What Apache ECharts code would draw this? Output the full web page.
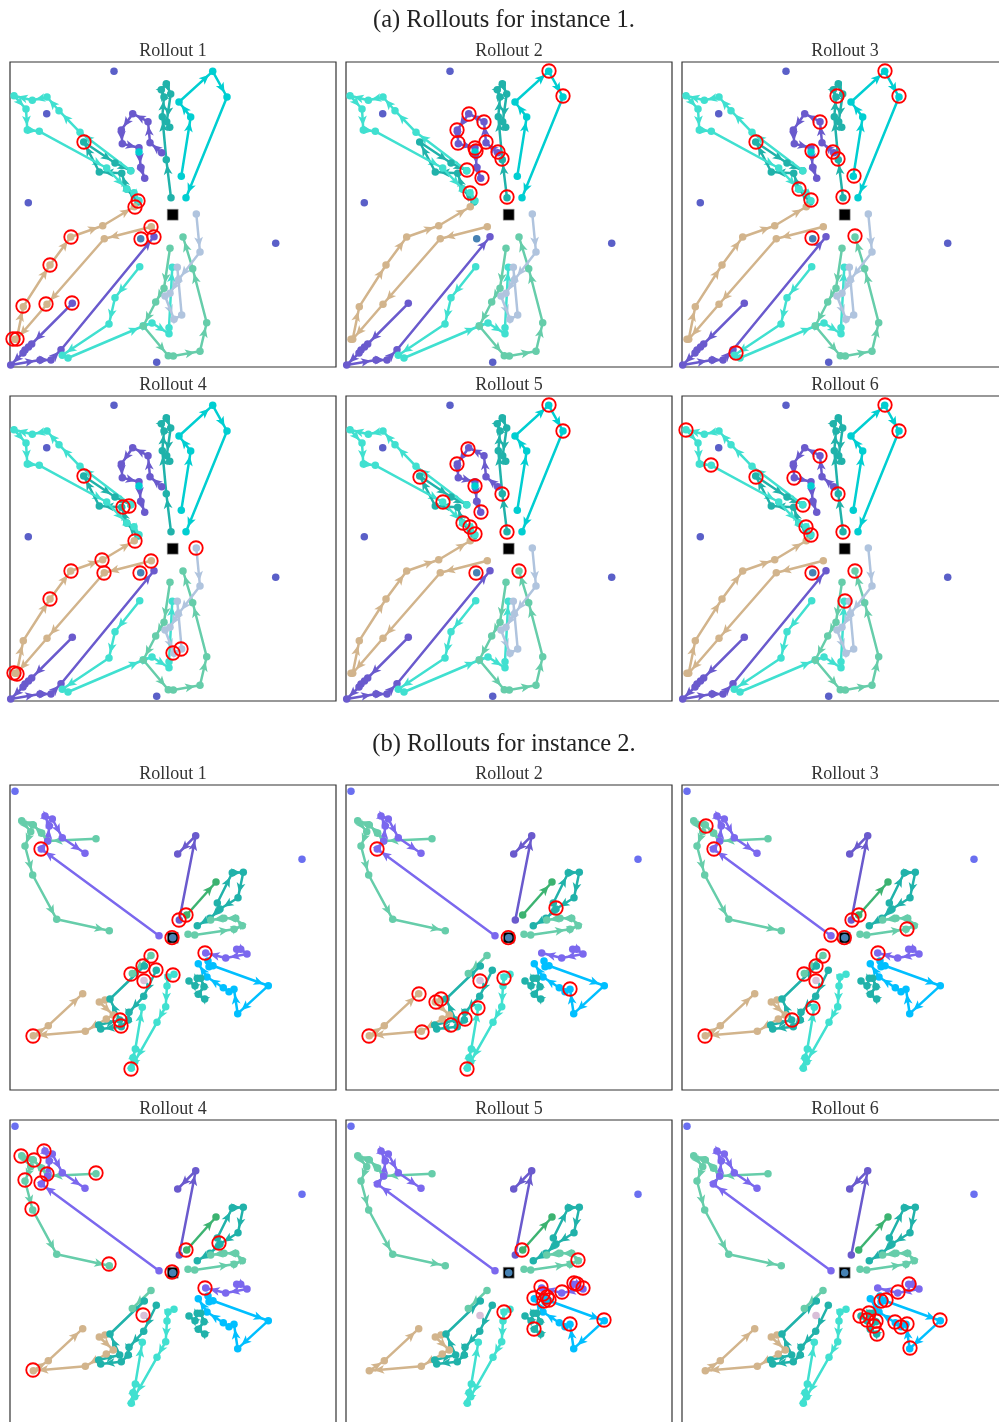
<!DOCTYPE html>
<html><head><meta charset="utf-8">
<style>html,body{margin:0;padding:0;background:#fff;overflow:hidden}#c{width:999px;height:1422px}</style>
<script src="https://cdn.jsdelivr.net/npm/echarts@6/dist/echarts.min.js"></script>
</head><body><div id="c"></div>
<script>
// ---- Instance 1 ----
const a_turq1=[[120.7,108.7],[70,70.3],[49,48.7],[37,35],[22.3,38.3],[4,33.7],[16,47],[17.3,68],[29.3,69.3],[96.7,106],[116.7,127],[124,130.7],[129,138.7]];
const a_sea1=[[128,140],[116.7,127],[111.7,111.3],[89.3,110],[73.7,80],[105,101],[120.7,108.7]];
const a_sea2=[[161,135.7],[156.3,97.7],[152.3,54.7],[154,35],[151.3,27.7],[156.3,21.7],[160.7,32],[156.7,59.7],[159.7,65.3]];
const a_dark=[[171.3,114.3],[180.7,55],[169,40],[202.7,9.3],[217,35],[176,135.7]];
const a_purple1=[[151.7,90.7],[140,80.7],[138,59.7],[122.7,51.7],[111.3,68],[112.3,81.7],[129,85.7],[130.7,105.3],[134.7,116.3]];
const a_tan=[[141.3,164.7],[94.3,176.7],[37,242.3],[6.7,277.3],[5,277.3],[13.3,244.7],[40,203],[60.7,175],[92.7,163.7],[124.3,144.7]];
const a_purple2=[[62.3,241.3],[21.7,282],[18.5,285],[15,288],[13,291],[0.7,303],[30,298],[41,298],[51,287.7],[144,174.7]];
const a_turq2=[[129.7,204.7],[105,235.7],[99,262],[52.3,293.3],[58,296],[133.3,264],[142,261],[159,271.7],[159,265.7],[162.3,205.3]];
const a_green=[[160,186.3],[154,226.3],[145.7,240],[133.3,264],[158.3,293.7],[163.3,294],[190,289.3],[196.7,260.7],[182.7,206.7],[173,175]];
const a_steel=[[186.3,152],[190,190],[168.3,218],[160,231.3],[155,234],[164,257.3],[171.7,253],[167.3,205.3]];
const a_extraDark=[[129,90]];
const a_extraBlue=[[130.7,176.7]];
const a_customers=[[104,9.3],[36.7,51.7],[18.3,140.7],[265.7,181.3],[146.7,300.3]];
const depot1=[[162.7,152.7]];
const circlesA=[
 [[74,80],[128,139],[125,145],[61,175],[40,203],[13,244],[36,242],[62,241],[141,165],[131,177],[144,175],[3,277],[7,277]],
 [[203,9],[217,34],[123,52],[138,60],[111,68],[112,81],[140,80],[129,86],[130,89],[152,90],[156,97],[121,108],[136,116],[124,131],[161,135]],
 [[203,9],[217,34],[155,34],[138,60],[74,80],[130,89],[151,90],[156,97],[172,114],[117,127],[129,138],[161,135],[130,176],[173,174],[54,291]],
 [[74,80],[113,111],[119,110],[125,145],[92,164],[61,175],[94,177],[40,203],[141,165],[130,177],[186,152],[171,253],[163,257],[4,277],[7,278]],
 [[203,9],[217,35],[122,53],[111,68],[74,81],[129,90],[156,98],[97,106],[135,116],[117,127],[124,131],[129,138],[161,136],[130,177],[173,175]],
 [[203,9],[217,35],[4,34],[29,69],[138,60],[74,81],[112,82],[156,98],[121,109],[124,131],[129,139],[161,136],[130,177],[173,175],[163,205]]
];
// ---- Instance 2 ----
const b_purple1=[[149,150.7],[31.3,64],[37.7,56],[39.3,41],[35,31],[42.3,34],[52.3,52.7],[75,68.3]];
const b_purple2=[[169.3,135],[185.7,50.7],[167.7,69]];
const b_green1=[[86,53.7],[37.7,56],[31.7,48.3],[23.3,40],[11.7,35.7],[20.7,46.7],[15,61],[22.7,90],[46.7,134.3],[99.3,145.7]];
const b_sea=[[176.7,130],[206,97]];
const b_teal1=[[207.3,118],[222.3,87.7],[233.3,87.3],[228,112.7],[210,124],[200,133.3],[187.3,140.7]];
const b_green2=[[178,149.3],[184.7,150],[224,144.3],[232.3,140.7],[225.7,133.3],[214,133.3],[200.7,135]];
const b_green3=[[141,170.5],[122.3,188.5]];
const b_purple3=[[226.7,164.3],[230.7,164.3],[237,169],[215.7,173],[195.7,168]];
const b_sky=[[198,176],[199,181.7],[203,180.7],[258.3,200.7],[227.7,228.7],[224,204.3],[219,206.7],[213.3,202.7],[197,192],[188.3,178.7]];
const b_teal2=[[194.7,214],[188.3,209.3],[194,201.7],[190.7,193.3],[187.3,193.3],[185,200.7],[179,196]];
const b_turq=[[164,189.3],[158,192],[157,201],[155.7,221.7],[147,237.3],[124.7,276.7],[121.3,283.3],[123,272.7],[125.3,264],[132.3,222.3]];
const b_teal3=[[146.3,185.3],[133.7,211.3],[119,227.3],[118.3,235],[111.3,241.7],[90.7,244],[88.7,240],[109.7,235],[100,214],[134.3,181]];
const b_tan=[[95,215],[89.3,217],[103.3,230],[96.3,234],[75.3,246.3],[23.3,250.7],[38.3,240.7],[72.7,208.7]];
const b_extraThistle=[[134,195.5]];
const b_customers=[[5,6.3],[292,74.3]];
const depot2=[[162.7,152.7]];
const circlesB=[
 [[31,64],[176,130],[169,135],[162,152.7],[141,171],[133,181],[146,185],[121,189],[134,196],[163,190],[195,168],[110,235],[111,241],[23,251],[121,284]],
 [[31,64],[210,123],[162.3,152.7],[134,196],[158,193],[73,209],[90,217],[95,214],[119,234],[132,223],[105,240],[76,247],[23,251],[224,204],[121,284]],
 [[24,41],[32,64],[177,130],[170,135],[225,144],[149,150],[162.3,152.7],[196,168],[141,171],[134,181],[122,189],[134,196],[131,223],[110,235],[23,251]],
 [[34,31],[11,36],[24,40],[37,54],[15,60],[86,53],[31,63],[22,89],[176,130],[209,123],[99,144],[162,152],[195,168],[133,195],[23,250]],
 [[176,130],[232,140],[195,167],[216,172],[228,163],[231,164],[237,168],[188,178],[197,174],[201,177],[203,180],[198,181],[158,192],[188,209],[224,204],[258,200]],
 [[227,164],[216,172],[204,180],[199,181],[178,196],[187,193],[185,200],[194,201],[192,206],[195,214],[213,202],[219,207],[225,204],[258,200],[228,228]]
];
const rolloutNames=['Rollout 1','Rollout 2','Rollout 3','Rollout 4','Rollout 5','Rollout 6'];

const TUR='#40e0d0',SEA='#20b2aa',DRK='#00ced1',PUR='#6a5acd',TAN='#d2b48c',GRN='#66cdaa',STL='#b0c4de',MPU='#7b68ee',MSG='#3cb371',SKY='#00bfff';
const routesA=[[a_sea1,SEA],[a_turq1,TUR],[a_sea2,SEA],[a_dark,DRK],[a_purple1,PUR],[a_tan,TAN],[a_purple2,PUR],[a_turq2,TUR],[a_green,GRN],[a_steel,STL]];
const routesB=[[b_green1,GRN],[b_purple1,MPU],[b_purple2,PUR],[b_sea,MSG],[b_teal1,SEA],[b_green2,GRN],[b_purple3,MPU],[b_sky,SKY],[b_teal2,SEA],[b_tan,TAN],[b_teal3,SEA],[b_green3,GRN],[b_turq,TUR]];

const W=326,H=305,LEFTS=[10,346,682];
const grids=[],xAxes=[],yAxes=[],series=[];
const mainFont={fontFamily:'Liberation Serif',fontSize:24.5,fontWeight:'normal',color:'#222'};
const titles=[
 {text:'(a) Rollouts for instance 1.',left:504,top:8,padding:0,textAlign:'center',textStyle:mainFont},
 {text:'(b) Rollouts for instance 2.',left:504,top:732,padding:0,textAlign:'center',textStyle:mainFont}
];
function arrowSeries(route,color,idx){
  const segs=[];
  for(let i=0;i+1<route.length;i++) segs.push([route[i][0],route[i][1],route[i+1][0],route[i+1][1]]);
  return {type:'custom',xAxisIndex:idx,yAxisIndex:idx,coordinateSystem:'cartesian2d',silent:true,z:3,clip:true,
    encode:{x:[0,2],y:[1,3]},data:segs,
    renderItem:function(p,api){
      const s=api.coord([api.value(0),api.value(1)]),e=api.coord([api.value(2),api.value(3)]);
      const dx=e[0]-s[0],dy=e[1]-s[1],L=Math.hypot(dx,dy);
      if(L<7) return {type:'group',children:[]};
      const ux=dx/L,uy=dy/L,back=Math.min(5,L*0.2),tx=e[0]-ux*back,ty=e[1]-uy*back,hl=10,hw=4.4,nt=7.5;
      const bx=tx-ux*hl,by=ty-uy*hl,nx=tx-ux*nt,ny=ty-uy*nt;
      return {type:'polygon',shape:{points:[[tx,ty],[bx-uy*hw,by+ux*hw],[nx,ny],[bx+uy*hw,by-ux*hw]]},style:{fill:color}};
    }};
}
function panel(left,top,name,routes,extras,customers,custColor,depot,depotFill,circles){
  const idx=grids.length;
  grids.push({left:left,top:top,width:W,height:H,outerBoundsMode:'none',show:true,borderColor:'#333',borderWidth:1.2,backgroundColor:'#fff'});
  const ax={type:'value',min:0,scale:false,axisLine:{show:false},axisTick:{show:false},axisLabel:{show:false},splitLine:{show:false},gridIndex:idx};
  xAxes.push(Object.assign({},ax,{max:W}));
  yAxes.push(Object.assign({},ax,{max:H,inverse:true}));
  titles.push({text:name,left:left+W/2,top:top-20,padding:0,textAlign:'center',textStyle:{fontFamily:'Liberation Serif',fontSize:18,fontWeight:'normal',color:'#333'}});
  const base={xAxisIndex:idx,yAxisIndex:idx,silent:true};
  series.push(Object.assign({},base,{type:'scatter',z:4,symbol:'rect',symbolSize:11,data:depot,itemStyle:{color:'#000',opacity:1,borderColor:'#aaa',borderWidth:0.6}}));
  if(depotFill) series.push(Object.assign({},base,{type:'scatter',z:5,symbolSize:7.5,data:depot,itemStyle:{color:depotFill,opacity:1}}));
  series.push(Object.assign({},base,{type:'scatter',z:2,symbolSize:7.5,data:customers,itemStyle:{color:custColor,opacity:1}}));
  routes.forEach(r=>{
    series.push(Object.assign({},base,{type:'line',z:3,data:r[0],symbol:'circle',symbolSize:7.5,showAllSymbol:true,lineStyle:{color:r[1],width:2.5},itemStyle:{color:r[1]}}));
    series.push(arrowSeries(r[0],r[1],idx));
  });
  extras.forEach(e=>series.push(Object.assign({},base,{type:'scatter',z:3,symbolSize:7.5,data:e[0],itemStyle:{color:e[1],opacity:1}})));
  series.push(Object.assign({},base,{type:'scatter',z:6,symbolSize:13.5,data:circles,itemStyle:{color:'rgba(0,0,0,0)',borderColor:'#f00',borderWidth:1.8,opacity:1}}));
}
const topsA=[62,396],topsB=[785,1120];
for(let i=0;i<6;i++){
  panel(LEFTS[i%3],topsA[i<3?0:1],rolloutNames[i],routesA,[[a_extraDark,DRK],[a_extraBlue,'#4682b4']],a_customers,'#5a5fc8',depot1,null,circlesA[i]);
}
for(let i=0;i<6;i++){
  panel(LEFTS[i%3],topsB[i<3?0:1],rolloutNames[i],routesB,[[b_extraThistle,'#d8bfd8']],b_customers,'#6a6ff0',depot2,'#4682b4',circlesB[i]);
}
const chart=echarts.init(document.getElementById('c'),null,{renderer:'canvas',width:999,height:1422});
chart.setOption({animation:false,backgroundColor:'#fff',title:titles,tooltip:{show:false},grid:grids,xAxis:xAxes,yAxis:yAxes,series:series});
</script></body></html>
